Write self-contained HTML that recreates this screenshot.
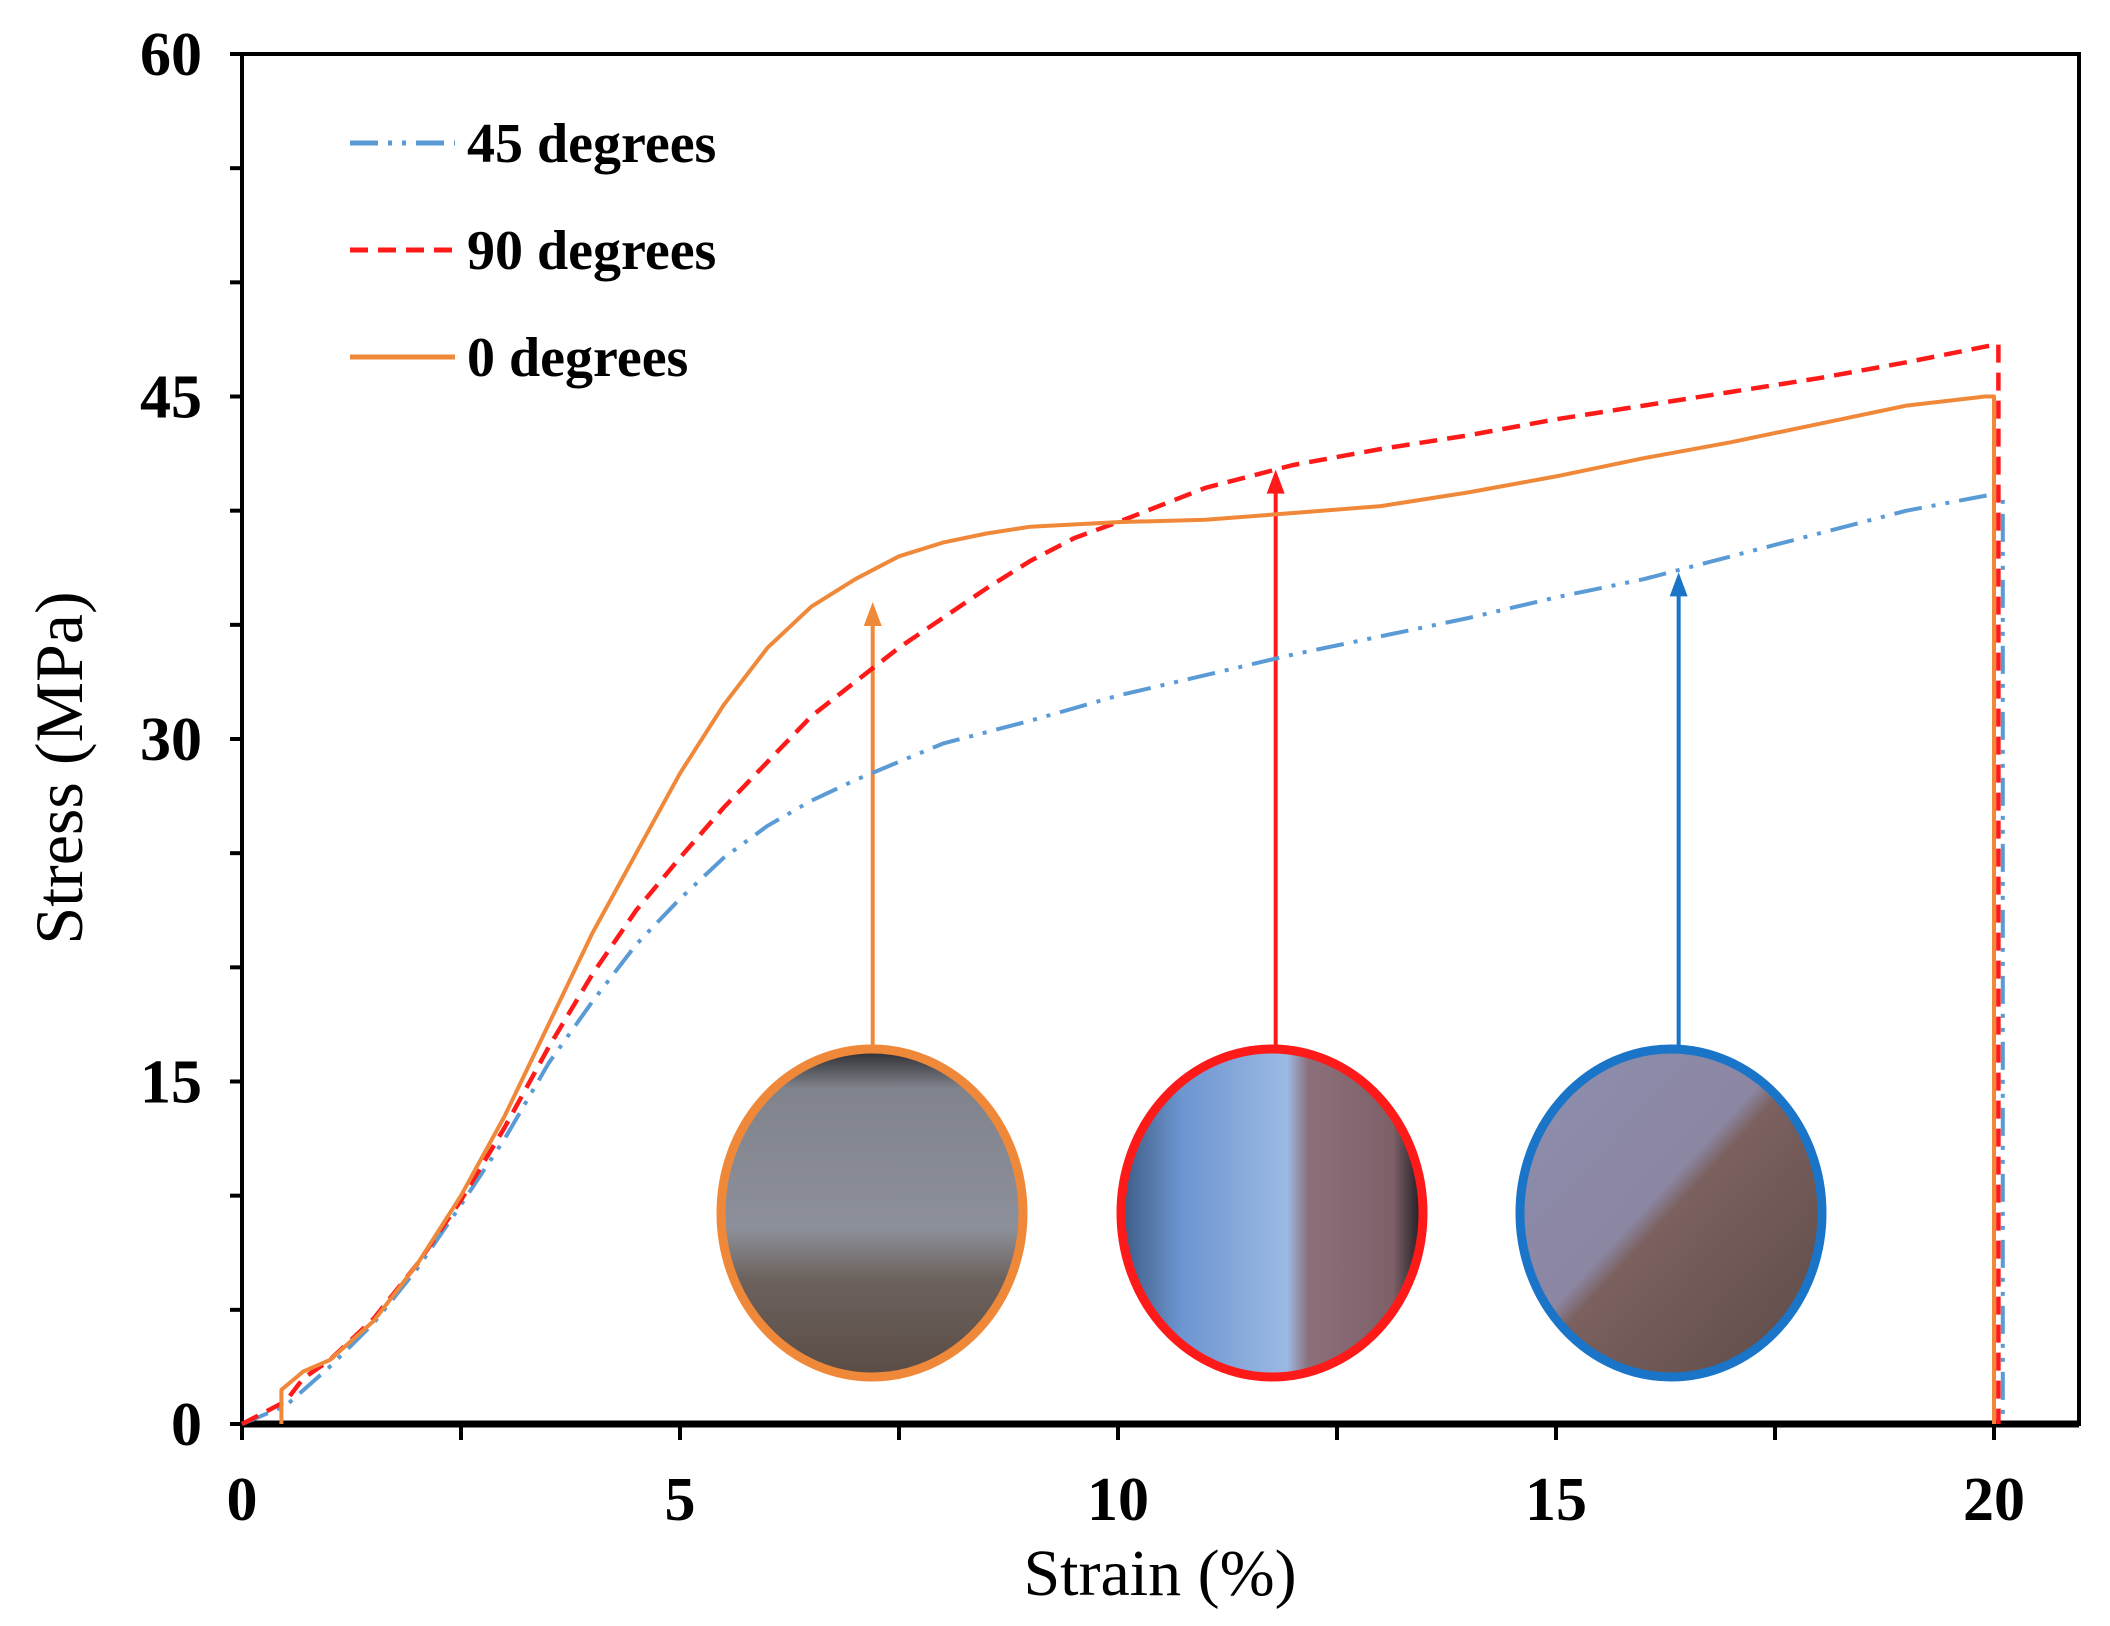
<!DOCTYPE html>
<html><head><meta charset="utf-8"><style>
html,body{margin:0;padding:0;background:#fff;}
svg{display:block;}
text{font-family:"Liberation Serif",serif;}
</style></head><body>
<svg id="chart" width="2110" height="1626" viewBox="0 0 2110 1626" xmlns="http://www.w3.org/2000/svg">
<defs>
<linearGradient id="g0" x1="0" y1="0" x2="0" y2="1"><stop offset="0" stop-color="#2a2a2e"/><stop offset="0.12" stop-color="#80838c"/><stop offset="0.55" stop-color="#8d909a"/><stop offset="0.7" stop-color="#6c625d"/><stop offset="1" stop-color="#5a4c45"/></linearGradient>
<linearGradient id="g1" x1="0" y1="0" x2="1" y2="0"><stop offset="0" stop-color="#3d5b84"/><stop offset="0.2" stop-color="#6d95d0"/><stop offset="0.55" stop-color="#9cb9e4"/><stop offset="0.62" stop-color="#8c6f7a"/><stop offset="0.9" stop-color="#7d6068"/><stop offset="1" stop-color="#1a1a1f"/></linearGradient>
<linearGradient id="g2" x1="0" y1="0" x2="1" y2="1"><stop offset="0" stop-color="#8e8fb0"/><stop offset="0.45" stop-color="#8b86a2"/><stop offset="0.5" stop-color="#7b605e"/><stop offset="1" stop-color="#5b4a47"/></linearGradient>
</defs>
<g id="axes"></g>
<g id="photos"></g>
<g id="series"></g>
<g id="legend"></g>
</svg>
<script>
const strain0 = [0.45,0.45,0.7,1,1.5,2,2.5,3,3.5,4,4.5,5,5.5,6,6.5,7,7.5,8,8.5,9,10,11,12,13,14,15,16,17,18,19,19.9,20,20];
const stress0 = [0,1.5,2.3,2.8,4.5,7,10,13.5,17.5,21.5,25,28.5,31.5,34,35.8,37,38,38.6,39,39.3,39.5,39.6,39.9,40.2,40.8,41.5,42.3,43,43.8,44.6,45,45,0];
const strain90 = [0,0.5,0.7,1,1.5,2,2.5,3,3.5,4,4.5,5,5.5,6,6.5,7,7.5,8,8.5,9,9.5,10,11,12,13,14,15,16,17,18,19,20.05,20.05];
const stress90 = [0,1,2,2.8,4.6,7,9.8,13,16.5,19.7,22.5,24.8,27,29,31,32.5,34,35.3,36.6,37.8,38.8,39.5,41,42,42.7,43.3,44,44.6,45.2,45.8,46.5,47.3,0];
const strain45 = [0,0.5,1,1.5,2,2.5,3,3.5,4,4.5,5,5.5,6,6.5,7,7.5,8,9,10,11,12,13,14,15,16,17,18,19,20.1,20.1];
const stress45 = [0,0.8,2.5,4.4,6.8,9.6,12.5,15.8,18.5,21,23,24.8,26.2,27.3,28.2,29,29.8,30.8,31.9,32.8,33.7,34.5,35.3,36.2,37,38,39,40,40.8,0];
const xTicks = [0,5,10,15,20];
const yTicks = [0,15,30,45,60];
const arrowX = [7.2,11.8,16.4];
const arrowY = [36,41.8,37.3];

const NS='http://www.w3.org/2000/svg';
const X0=242,X1=1994,Y0=1424,Y1=54,RIGHT=2079;
const sx=v=>X0+(v/20)*(X1-X0);
const sy=v=>Y0-(v/60)*(Y0-Y1);
function mk(tag,attrs,parent){const e=document.createElementNS(NS,tag);for(const k in attrs)e.setAttribute(k,attrs[k]);parent.appendChild(e);return e;}
const axes=document.getElementById('axes');
const frame=mk('rect',{x:X0,y:Y1,width:RIGHT-X0,height:Y0-Y1,fill:'none',stroke:'#000','stroke-width':4},axes);


mk('line',{x1:X0,y1:Y0,x2:RIGHT,y2:Y0,stroke:'#000','stroke-width':7},axes);
for(let v=0;v<=60;v+=5){const l=mk('line',{x1:X0-12,y1:sy(v),x2:X0,y2:sy(v),stroke:'#000','stroke-width':4},axes);

}
for(let v=0;v<=20;v+=2.5){const l=mk('line',{x1:sx(v),y1:Y0,x2:sx(v),y2:Y0+16,stroke:'#000','stroke-width':4},axes);

}
yTicks.forEach(v=>{const t=mk('text',{x:X0-40,y:sy(v)+21,'text-anchor':'end','font-size':62,'font-weight':'bold'},axes);t.textContent=v;

});
xTicks.forEach(v=>{const t=mk('text',{x:sx(v),y:1520,'text-anchor':'middle','font-size':62,'font-weight':'bold'},axes);t.textContent=v;

});
const xt=mk('text',{x:1160,y:1595,'text-anchor':'middle','font-size':66},axes);xt.textContent='Strain (%)';


const yt=mk('text',{x:0,y:0,'text-anchor':'middle','font-size':68,transform:'translate(82,768) rotate(-90)'},axes);yt.textContent='Stress (MPa)';



const photos=document.getElementById('photos');
const cols=['#f0883a','#ff1a1a','#1a75c8'];
const fills=['url(#g0)','url(#g1)','url(#g2)'];
const cx=[872,1272,1671];
const names=['photo-0-degrees','photo-90-degrees','photo-45-degrees'];
for(let i=0;i<3;i++){
  const a=mk('line',{x1:sx(arrowX[i]),y1:1046,x2:sx(arrowX[i]),y2:sy(arrowY[i])+22,stroke:cols[i],'stroke-width':4},photos);
  
  
  const h=mk('polygon',{points:`${sx(arrowX[i])-9},${sy(arrowY[i])+24} ${sx(arrowX[i])+9},${sy(arrowY[i])+24} ${sx(arrowX[i])},${sy(arrowY[i])}`,fill:cols[i]},photos);
  
  
  const e=mk('ellipse',{cx:cx[i],cy:1213,rx:151,ry:164,fill:fills[i],stroke:cols[i],'stroke-width':9},photos);
  
  
}

const series=document.getElementById('series');
function path(xs,ys){return xs.map((v,i)=>(i?'L':'M')+sx(v).toFixed(1)+','+sy(ys[i]).toFixed(1)).join(' ');}
const p45=mk('path',{d:path(strain45,stress45),fill:'none',stroke:'#5b9bd5','stroke-width':4,'stroke-dasharray':'28,10,4,10,4,10','stroke-linejoin':'round'},series);


const p90=mk('path',{d:path(strain90,stress90),fill:'none',stroke:'#ff1a1a','stroke-width':4.5,'stroke-dasharray':'18,10','stroke-linejoin':'round'},series);


const p0=mk('path',{d:path(strain0,stress0),fill:'none',stroke:'#f0883a','stroke-width':4,'stroke-linejoin':'round'},series);



const legend=document.getElementById('legend');
const ly=[143,250,357];
const lab=['45 degrees','90 degrees','0 degrees'];
const lc=['#5b9bd5','#ff1a1a','#f0883a'];
const ld=['28,10,4,10,4,10','18,10','none'];
for(let i=0;i<3;i++){
  const l=mk('line',{x1:350,y1:ly[i],x2:455,y2:ly[i],stroke:lc[i],'stroke-width':5,'stroke-dasharray':ld[i]},legend);
  
  
  const t=mk('text',{x:467,y:ly[i]+19,'font-size':56,'font-weight':'bold'},legend);t.textContent=lab[i];
  
  
}
</script>
</body></html>
